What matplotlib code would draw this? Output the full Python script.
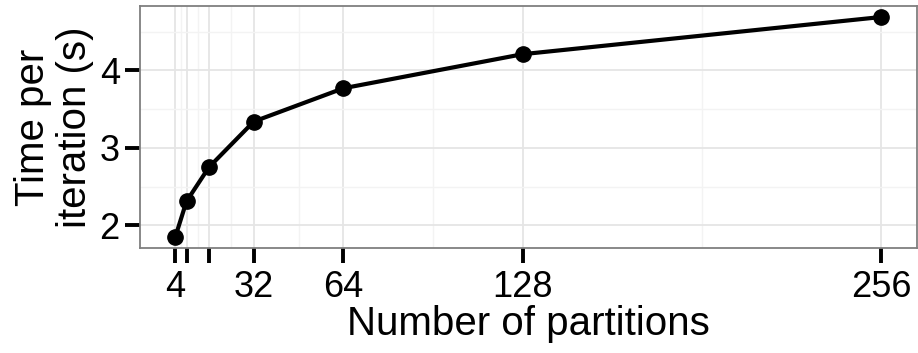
import matplotlib.pyplot as plt
from matplotlib.ticker import FixedLocator

plt.rcParams['font.family'] = ['Liberation Sans', 'DejaVu Sans']

partitions = [4, 8, 16, 32, 64, 128, 256]
time_per_iter = [1.85, 2.31, 2.75, 3.34, 3.77, 4.21, 4.69]
x_tick_labels = ["4", "", "", "32", "64", "128", "256"]
y_ticks = [2, 3, 4]

fig = plt.figure(figsize=(9.18, 3.53), dpi=100)
ax = fig.add_axes([0.1525, 0.2975, 0.846, 0.6855])

# major and minor grid like ggplot theme_bw
x_minor = [(a + b) / 2 for a, b in zip(partitions[:-1], partitions[1:])]
ax.xaxis.set_major_locator(FixedLocator(partitions))
ax.xaxis.set_minor_locator(FixedLocator(x_minor))
ax.yaxis.set_major_locator(FixedLocator(y_ticks))
ax.yaxis.set_minor_locator(FixedLocator([1.5, 2.5, 3.5, 4.5]))
ax.set_xticklabels(x_tick_labels)
ax.grid(which='major', color='#e5e5e5', linewidth=1.3)
ax.grid(which='minor', color='#f3f3f3', linewidth=1.0)
ax.set_axisbelow(True)

ax.plot(partitions, time_per_iter, color='black', linewidth=3,
        marker='o', markersize=11, zorder=3)

xr = partitions[-1] - partitions[0]
ax.set_xlim(partitions[0] - 0.05 * xr, partitions[-1] + 0.05 * xr)
yr = max(time_per_iter) - min(time_per_iter)
ax.set_ylim(min(time_per_iter) - 0.05 * yr, max(time_per_iter) + 0.05 * yr)

for s in ax.spines.values():
    s.set_color('#7f7f7f')
    s.set_linewidth(1.3)

ax.tick_params(which='major', length=10.5, width=2.8, color='black',
               labelsize=26, pad=4)
ax.tick_params(axis='x', which='major', pad=5)
ax.tick_params(which='minor', length=0)

ax.set_xlabel("Number of partitions", fontsize=29, labelpad=0)
ax.set_ylabel("Time per\niteration (s)", fontsize=29, labelpad=4,
              linespacing=1.15)

fig.savefig("out.png", dpi=100)
